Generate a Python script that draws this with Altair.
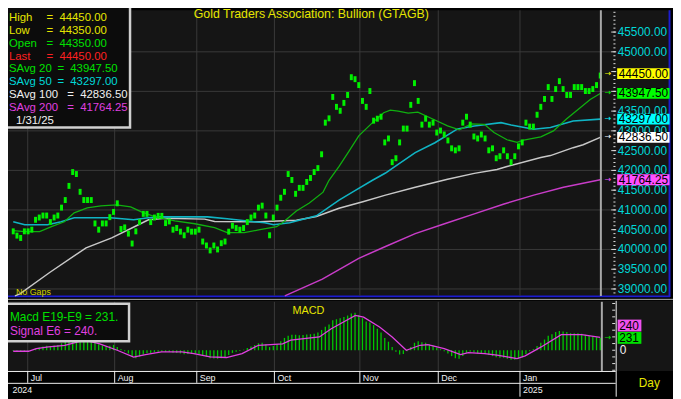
import altair as alt
import pandas as pd

# ---------------- data ----------------
price_mid = [40458, 40350, 40290, 40458, 40458, 40500, 40750, 40808, 40858, 40858,
             40692, 40808, 40858, 41058, 41250, 41608, 41958, 41908, 41458, 41250,
             41250, 41250, 40658, 40500, 40658, 40658, 40817, 40950, 41167, 40517,
             40558, 40400, 40150, 40458, 40692, 40900, 40900, 40692, 40808, 40850,
             40850, 40667, 40708, 40500, 40542, 40450, 40358, 40500, 40450, 40450,
             40500, 40200, 40100, 39975, 40100, 40000, 40158, 40200, 40450, 40600,
             40542, 40500, 40542, 40692, 40808, 40858, 41058, 41108, 40858, 40358,
             40808, 41058, 41308, 41458, 41908, 41758, 41408, 41558, 41558, 41708,
             41808, 41958, 42058, 42408, 43208, 43317, 43858, 43608, 43508, 43708,
             43908, 44358, 44308, 44158, 43758, 43608, 44008, 43258, 43308, 43358,
             42708, 42808, 42208, 42308, 42708, 43058, 43058, 43658, 44208, 43758,
             43158, 43308, 43158, 43208, 42958, 43008, 42908, 42758, 42558, 42508,
             42558, 43208, 43358, 43158, 42858, 42808, 42908, 42808, 42508, 42558,
             42308, 42358, 42508, 42358, 42208, 42358, 42608, 42708, 43208, 43108,
             43108, 43408, 43608, 43808, 44108, 43808, 44058, 44258, 44058, 43908,
             43908, 44108, 44108, 44108, 44008, 44008, 44058, 44158, 44400]

sma20_x = [0, 3.1, 7.1, 10.3, 13.75, 16.4, 19.9, 23.6, 27.8, 31.6, 34.5, 38.2, 43.5, 48.9,
           54.2, 57.6, 62.2, 66.4, 70.9, 72.8, 76.2, 79.7, 83.4, 85.0, 87.7, 90.3, 93.0,
           96.7, 99.7, 101.5, 103.6, 106.3, 108.9, 113.5, 116.9, 120.1, 123.3, 126.8,
           129.4, 132.9, 135.6, 137.4, 142.0, 145.4, 148.9, 152.6, 155.3, 158]
sma20_y = [40475, 40450, 40450, 40575, 40700, 40925, 41050, 41100, 41125, 41075, 40950,
           40825, 40725, 40650, 40550, 40425, 40425, 40500, 40575, 40700, 40975, 41175,
           41450, 41750, 42100, 42475, 42875, 43208, 43458, 43525, 43500, 43450, 43475,
           43275, 43125, 43025, 43175, 43167, 42958, 42775, 42708, 42767, 42850, 43000,
           43300, 43583, 43792, 43947.5]

sma50_x = [0, 3.1, 9.2, 12.9, 16.4, 20.9, 26.2, 32.4, 36.4, 39.8, 49.6, 52.3, 57.6, 64.8,
           67.7, 70.1, 74.4, 81.6, 87.7, 92.2, 96.7, 100.2, 102.8, 108.2, 113.5, 119.6,
           124.1, 131.3, 134.0, 140.1, 144.6, 150.7, 158]
sma50_y = [40700, 40625, 40625, 40700, 40800, 40800, 40800, 40750, 40800, 40825, 40825,
           40825, 40775, 40700, 40675, 40625, 40675, 40850, 41250, 41500, 41750, 41933,
           42100, 42450, 42700, 43050, 43125, 43208, 43150, 43042, 43083, 43250, 43297]

sma100_x = [0.45, 1.8, 9.8, 19.6, 26.5, 33.7, 36.4, 40.9, 51.5, 54.2, 66.4, 76.2, 81.6,
            87.7, 94.1, 100.2, 108.2, 116.9, 124.1, 130.2, 132.9, 142.0, 144.6, 150.7,
            153.4, 158]
sma100_y = [38825, 38875, 39417, 40042, 40292, 40625, 40750, 40792, 40767, 40708, 40700,
            40740, 40833, 41042, 41208, 41375, 41575, 41775, 41925, 42025, 42100, 42325,
            42375, 42575, 42650, 42836.5]

sma200_x = [73.1, 83.2, 93.0, 100.2, 108.2, 116.1, 124.1, 132.1, 140.1, 148.1, 158]
sma200_y = [38825, 39250, 39775, 40075, 40400, 40650, 40900, 41150, 41375, 41575, 41764.25]

macd_hist = [-15, -20, -25, -15, -10, 0, 30, 50, 70, 85,
             80, 90, 100, 130, 160, 210, 270, 300, 280, 250,
             220, 200, 150, 110, 90, 80, 85, 100, 60, 20,
             -20, -60, -120, -150, -120, -80, -50, -50, -40, -30,
             -25, -30, -30, -45, -50, -60, -75, -70, -70, -65,
             -70, -100, -125, -150, -155, -160, -150, -130, -90, -50,
             -30, -15, 10, 40, 70, 100, 130, 140, 110, 60,
             80, 110, 170, 230, 270, 290, 290, 280, 285, 295,
             300, 310, 330, 380, 440, 480, 560, 580, 600, 620,
             650, 690, 700, 660, 600, 540, 520, 470, 400, 330,
             230, 160, 60, -30, -80, -70, -20, 60, 140, 170,
             150, 140, 110, 90, 50, 20, -20, -60, -110, -150,
             -160, -110, -50, -30, -40, -60, -60, -70, -90, -110,
             -130, -140, -140, -160, -180, -180, -160, -130, -70, -20,
             20, 80, 140, 200, 270, 300, 340, 360, 350, 340,
             320, 320, 320, 310, 290, 270, 260, 245, 231]

signal_x = [0, 4.1, 6.2, 9.5, 13.9, 19.1, 23.1, 28.0, 32.4, 35.6, 39.9, 45.4, 48.6, 53.0,
            57.4, 61.6, 66.0, 72.5, 74.7, 82.4, 85.6, 92.1, 94.3, 98.6, 102.0, 105.8,
            109.5, 111.6, 116.0, 120.4, 122.5, 126.9, 130.2, 135.6, 137.8, 142.1, 147.5,
            153.0, 158]
signal_y = [-19, -19, 31, 62, 93, 190, 124, 0, -130, -81, -31, -31, -62, -124, -136, -62,
            93, 120, 190, 248, 403, 651, 620, 434, 248, 0, 93, 105, 31, -81, -43, -62, -93,
            -155, -105, 62, 291, 291, 240]

month_labels = ["Jul", "Aug", "Sep", "Oct", "Nov", "Dec", "Jan"]
month_pos = [3.9, 27.3, 49.4, 70.3, 93.3, 114.4, 136.4]
year_labels = ["2024", "2025"]
year_pos = [-1.0, 136.4]

# price labels that stay visible on the right axis (44000/44500 lie under last-value tags)
price_ticks = [39000, 39500, 40000, 40500, 41000, 41500, 42000, 42500, 43000, 43500,
               45000, 45500]
major_ticks = list(range(39000, 45501, 500))
price_grid = list(range(39000, 45001, 1000))
price_minor = list(range(38900, 46001, 100))
macd_minor = list(range(-375, 876, 125))

last_vals = [44450, 43947.5, 43297, 42836.5, 41764.25]
last_text = ["44450.00", "43947.50", "43297.00", "42836.50", "41764.25"]

legend_labels = ["High", "Low", "Open", "Last", "SAvg 20", "SAvg 50", "SAvg 100", "SAvg 200"]
legend_values = ["44450.00", "44350.00", "44350.00", "44450.00",
                 "43947.50", "43297.00", "42836.50", "41764.25"]
legend_date = "1/31/25"
macd_legend = ["Macd E19-E9 = 231.", "Signal E6 = 240."]
macd_last = 231
signal_last = 240
title_text = "Gold Traders Association: Bullion (GTAGB)"

# ---------------- styles ----------------
FONT = "Liberation Sans"
YEL = "#e6e600"
GRN = "#00e000"
CYN = "#00d8d8"
WHT = "#f0f0f0"
MAG = "#e040e0"
RED = "#ff2020"
PANEL = "#151515"
GRID = "#3a3a3a"
legend_colors = [YEL, YEL, GRN, RED, GRN, CYN, WHT, MAG]
box_colors = ["#ffff00", "#00ff00", "#00ffff", "#ffffff", "#ff50ff"]

XS = alt.Scale(domain=[-1.41, 161.36], range=[0, 612], zero=False, nice=False)
PY = alt.Scale(domain=[38825, 46050], range=[289, 0], zero=False, nice=False)
MY = alt.Scale(domain=[-388.5, 906.5], range=[365, 295], zero=False, nice=False)
PX_UNITS = 25.0  # price units per pixel in the top panel

one = pd.DataFrame({"k": [0]})


def rect(x, x2, y, y2, fill, stroke=None, sw=0):
    kw = dict(fill=fill)
    if stroke:
        kw.update(stroke=stroke, strokeWidth=sw)
    return alt.Chart(one).mark_rect(**kw).encode(
        x=alt.value(x), x2=alt.value(x2), y=alt.value(y), y2=alt.value(y2))


def hline(x, x2, y, color, sw=1):
    return alt.Chart(one).mark_rule(color=color, strokeWidth=sw).encode(
        x=alt.value(x), x2=alt.value(x2), y=alt.value(y))


def vline(x, y, y2, color, sw=1):
    return alt.Chart(one).mark_rule(color=color, strokeWidth=sw).encode(
        x=alt.value(x), y=alt.value(y), y2=alt.value(y2))


def ptext(txt, x, y, color, size, align="left", font=FONT):
    return alt.Chart(pd.DataFrame({"t": [txt]})).mark_text(
        align=align, baseline="middle", font=font, fontSize=size, color=color
    ).encode(x=alt.value(x), y=alt.value(y), text="t:N")


# ---------------- backgrounds ----------------
bg = [
    rect(0, 670, 0, 289, PANEL),
    rect(0, 673, 294, 365, PANEL),
    hline(0, 673, 292.5, "#b0b0b0", 1),
    hline(0, 670, 289.5, "#1c1cd0", 2),
    vline(669.5, 0, 290, "#1c1cd0", 2),
]

months = pd.DataFrame({"p": month_pos, "m": month_labels})
grid_v_top = alt.Chart(months).mark_rule(color=GRID).encode(
    x=alt.X("p:Q", scale=XS, axis=None), y=alt.value(0), y2=alt.value(289))
grid_v_macd = alt.Chart(months).mark_rule(color=GRID).encode(
    x=alt.X("p:Q", scale=XS, axis=None), y=alt.value(295), y2=alt.value(365))

# ---------------- price panel ----------------
pdf = pd.DataFrame({"i": list(range(len(price_mid))), "v": price_mid})
grid_h = alt.Chart(pd.DataFrame({"v": price_grid})).mark_rule(color=GRID).encode(
    y=alt.Y("v:Q", scale=PY, axis=None), x=alt.value(0), x2=alt.value(611))


def ma_line(xs, ys, color, sw):
    return alt.Chart(pd.DataFrame({"i": xs, "v": ys})).mark_line(
        color=color, strokeWidth=sw).encode(
        x=alt.X("i:Q", scale=XS, axis=None), y=alt.Y("v:Q", scale=PY, axis=None))


sma200 = ma_line(sma200_x, sma200_y, "#c83cc8", 1.5)
sma100 = ma_line(sma100_x, sma100_y, "#c8c8c8", 1.5)
sma50 = ma_line(sma50_x, sma50_y, "#10b4c4", 1.6)
sma20 = ma_line(sma20_x, sma20_y, "#10b010", 1.3)

points = alt.Chart(pdf).mark_tick(orient="vertical", thickness=3, size=6, color="#00f000",
                                  opacity=1).encode(
    x=alt.X("i:Q", scale=XS, axis=None), y=alt.Y("v:Q", scale=PY, axis=None))

minor = alt.Chart(pd.DataFrame({"v": price_minor})).mark_rule(color="#e0e0e0").encode(
    y=alt.Y("v:Q", scale=PY, axis=None), x=alt.value(612.7), x2=alt.value(614.8))
major = alt.Chart(pd.DataFrame({"v": major_ticks})).mark_rule(color="#e0e0e0").encode(
    y=alt.Y("v:Q", scale=PY, axis=None), x=alt.value(610.5), x2=alt.value(615.5))
labels = alt.Chart(pd.DataFrame({"v": price_ticks, "t": [f"{v:.2f}" for v in price_ticks]})
                   ).mark_text(align="left", baseline="middle", font=FONT, fontSize=12,
                               color=CYN).encode(
    y=alt.Y("v:Q", scale=PY, axis=None), x=alt.value(617), text="t:N")

ldf = pd.DataFrame({"v": last_vals, "t": last_text, "c": box_colors})
half = 5.5 * PX_UNITS
last_boxes = alt.Chart(ldf).transform_calculate(
    top=f"datum.v + {half}", bot=f"datum.v - {half}"
).mark_rect().encode(
    y=alt.Y("top:Q", scale=PY, axis=None), y2="bot:Q",
    x=alt.value(616.5), x2=alt.value(669.5),
    color=alt.Color("c:N", scale=None, legend=None))
last_txt = alt.Chart(ldf).mark_text(align="left", baseline="middle", font=FONT,
                                    fontSize=12, color="#000000").encode(
    y=alt.Y("v:Q", scale=PY, axis=None), x=alt.value(618), text="t:N")
last_arrows = alt.Chart(ldf).mark_text(align="center", baseline="middle",
                                       font="DejaVu Sans", fontSize=8).encode(
    y=alt.Y("v:Q", scale=PY, axis=None), x=alt.value(607),
    color=alt.Color("c:N", scale=None, legend=None), text=alt.value("→"))

price_layer = alt.layer(grid_h, sma200, sma100, sma50, sma20, points, minor, major,
                        labels, last_boxes, last_txt, last_arrows)

# ---------------- macd panel ----------------
mdf = pd.DataFrame({"i": list(range(len(macd_hist))), "m": macd_hist})
bars = alt.Chart(mdf).mark_rule(color="#00c800", strokeWidth=1.3).encode(
    x=alt.X("i:Q", scale=XS, axis=None), y=alt.Y("m:Q", scale=MY, axis=None),
    y2=alt.datum(0))
sig = alt.Chart(pd.DataFrame({"i": signal_x, "m": signal_y})).mark_line(
    color="#e040e0", strokeWidth=1.3).encode(
    x=alt.X("i:Q", scale=XS, axis=None), y=alt.Y("m:Q", scale=MY, axis=None))
mminor = alt.Chart(pd.DataFrame({"m": macd_minor})).mark_rule(color="#e0e0e0").encode(
    y=alt.Y("m:Q", scale=MY, axis=None), x=alt.value(611.5), x2=alt.value(614.5))
zero_lab = alt.Chart(pd.DataFrame({"m": [0], "t": ["0"]})).mark_text(
    align="left", baseline="middle", font=FONT, fontSize=12, color=WHT).encode(
    y=alt.Y("m:Q", scale=MY, axis=None), x=alt.value(619), text="t:N")
marrow = alt.Chart(pd.DataFrame({"m": [macd_last]})).mark_text(
    align="center", baseline="middle", font="DejaVu Sans", fontSize=8, color=GRN).encode(
    y=alt.Y("m:Q", scale=MY, axis=None), x=alt.value(607), text=alt.value("→"))

macd_layer = alt.layer(bars, sig, mminor, zero_lab, marrow)

# last-value tags of the MACD panel (stacked so they do not overlap)
macd_tags = [
    rect(617, 641, 313, 325, "#f050f0"),
    rect(617, 641, 325.5, 337.5, "#00e000"),
    ptext(str(signal_last), 618.5, 319.5, "#000000", 12),
    ptext(str(macd_last), 618.5, 331.5, "#000000", 12),
]

# ---------------- overlays ----------------
cursor = [vline(600, 0, 289, "#a8a8a8", 2), vline(601, 295, 365, "#a8a8a8", 2)]

date_lines = [
    hline(-4, 615, 365.5, "#f0f0f0", 1),
    hline(-4, 615, 377.5, "#f0f0f0", 1),
    vline(615.5, 294, 391, "#f0f0f0", 1),
]
month_sep = alt.Chart(months).mark_rule(color="#f0f0f0").encode(
    x=alt.X("p:Q", scale=XS, axis=None), y=alt.value(365), y2=alt.value(377))
month_txt = alt.Chart(months).mark_text(align="left", baseline="middle", dx=3, font=FONT,
                                        fontSize=9, color=WHT).encode(
    x=alt.X("p:Q", scale=XS, axis=None), y=alt.value(372.5), text="m:N")
years = pd.DataFrame({"p": year_pos, "y": year_labels})
year_sep = alt.Chart(years.iloc[1:]).mark_rule(color="#f0f0f0").encode(
    x=alt.X("p:Q", scale=XS, axis=None), y=alt.value(377), y2=alt.value(391))
year_txt = alt.Chart(years).mark_text(align="left", baseline="middle", dx=3, font=FONT,
                                      fontSize=9, color=WHT).encode(
    x=alt.X("p:Q", scale=XS, axis=None), y=alt.value(384), text="y:N")

texts = [
    ptext(title_text, 188, 3.5, YEL, 12.5, "left"),
    ptext("No Gaps", 8, 285, "#d0d000", 9),
    ptext("MACD", 304, 304, YEL, 11, "center"),
    ptext("Day", 649, 377, YEL, 12, "center"),
]

# legend box top-left
ly = [8 + 12.95 * k for k in range(len(legend_labels) + 1)]
eqx = {3: 39, 4: 39, 7: 50, 8: 60}
legdf = pd.DataFrame({
    "lab": legend_labels, "val": legend_values, "c": legend_colors,
    "y": ly[:len(legend_labels)],
    "ex": [eqx[len(s)] for s in legend_labels],
    "vx": [eqx[len(s)] + 13 for s in legend_labels],
})
leg_box = rect(-6, 123.5, -6, 118.5, "#0c0c0c", "#d0d0d0", 2.5)
leg_lab = alt.Chart(legdf).mark_text(align="left", baseline="middle", font=FONT,
                                     fontSize=11.5).encode(
    x=alt.value(1), y=alt.Y("y:Q", scale=None, axis=None), text="lab:N",
    color=alt.Color("c:N", scale=None, legend=None))
leg_eq = alt.Chart(legdf).mark_text(align="left", baseline="middle", font=FONT,
                                    fontSize=11.5).encode(
    x=alt.X("ex:Q", scale=None, axis=None), y=alt.Y("y:Q", scale=None, axis=None),
    text=alt.value("="), color=alt.Color("c:N", scale=None, legend=None))
leg_val = alt.Chart(legdf).mark_text(align="left", baseline="middle", font=FONT,
                                     fontSize=11.5).encode(
    x=alt.X("vx:Q", scale=None, axis=None), y=alt.Y("y:Q", scale=None, axis=None),
    text="val:N", color=alt.Color("c:N", scale=None, legend=None))
leg_date = ptext(legend_date, 8, ly[-1], WHT, 11.5)

mleg_box = rect(-4, 122.5, 297, 335, "#0c0c0c", "#d0d0d0", 2.5)
mleg = [ptext(macd_legend[0], 2, 310.5, GRN, 12), ptext(macd_legend[1], 2, 324.5, MAG, 12)]

chart = alt.layer(
    *bg, grid_v_top, grid_v_macd, price_layer, macd_layer, *macd_tags, *cursor,
    *date_lines, month_sep, month_txt, year_sep, year_txt, *texts,
    leg_box, leg_lab, leg_eq, leg_val, leg_date, mleg_box, *mleg,
).resolve_scale(y="independent").properties(
    width=673, height=391, autosize=alt.AutoSizeParams(type="none"), padding=0,
    background="#000000",
).configure_view(strokeWidth=0)

chart.save("out.html", embed_options={"renderer": "svg", "actions": False})
